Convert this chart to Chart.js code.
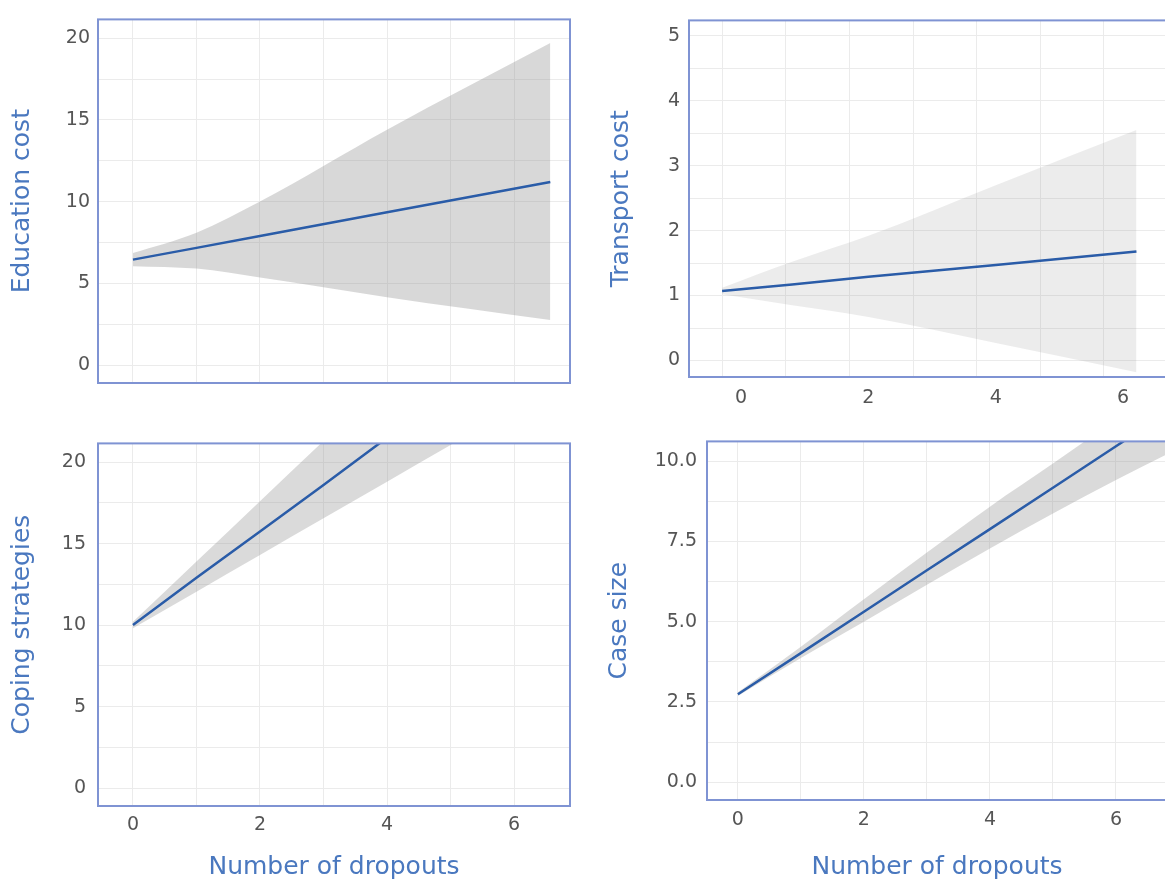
<!DOCTYPE html>
<html>
<head>
<meta charset="utf-8">
<script src="https://cdn.jsdelivr.net/npm/chart.js@4.4.1/dist/chart.umd.min.js"></script>
<style>
  html, body { margin: 0; padding: 0; background: #fff; overflow: hidden; width: 1165px; height: 879px; }
  .panel { position: absolute; }
</style>
</head>
<body>
<div class="panel" style="left:0;top:0"><canvas id="edu" width="580" height="420"></canvas></div>
<div class="panel" style="left:580px;top:0"><canvas id="transport" width="600" height="420"></canvas></div>
<div class="panel" style="left:0;top:420px"><canvas id="coping" width="580" height="462"></canvas></div>
<div class="panel" style="left:580px;top:420px"><canvas id="casesize" width="600" height="462"></canvas></div>
<script>
// Education cost vs number of dropouts
const eduX = [0, 1, 2, 4, 6.57];
const eduFit = [6.45, 7.17, 7.9, 9.35, 11.2];
const eduUpper = [6.85, 8.1, 10.0, 14.4, 19.7];
const eduLower = [6.05, 5.9, 5.35, 4.15, 2.75];
const eduTicks = [0, 5, 10, 15, 20];

// Transport cost
const trX = [0, 1.1, 2.3, 4.3, 6.51];
const trFit = [1.07, 1.17, 1.29, 1.47, 1.68];
const trUpper = [1.12, 1.52, 1.92, 2.7, 3.55];
const trLower = [1.02, 0.85, 0.67, 0.27, -0.18];
const trTicks = [0, 1, 2, 3, 4, 5];

// Coping strategies
const copX = [0, 1, 2, 3, 4, 5.2];
const copFit = [10.0, 12.9, 15.75, 18.6, 21.5, 24.9];
const copUpper = [10.2, 13.9, 17.6, 21.3, 25.0, 29.5];
const copLower = [9.8, 12.05, 14.3, 16.55, 18.8, 21.5];
const copTicks = [0, 5, 10, 15, 20];

// Case size
const caseX = [0, 1, 2, 3, 4, 5, 6, 6.85];
const caseFit = [2.74, 4.02, 5.31, 6.6, 7.88, 9.17, 10.46, 11.55];
const caseUpper = [2.8, 4.22, 5.7, 7.15, 8.58, 9.92, 11.3, 12.5];
const caseLower = [2.69, 3.87, 5.0, 6.15, 7.28, 8.37, 9.41, 10.25];
const caseTicks = [0, 2.5, 5, 7.5, 10];

const dropoutTicks = [0, 2, 4, 6];
const xTitle = "Number of dropouts";

Chart.defaults.font.family = "'DejaVu Sans', sans-serif";

const gridColor = "#ebebeb";
const tickColor = "#555555";
const titleColor = "#4a78bf";
const lineColor = "#2a5ca8";

const framePlugin = {
  id: "frame",
  afterDraw(chart) {
    const { ctx, chartArea: a } = chart;
    ctx.save();
    ctx.strokeStyle = "#7f93d3";
    ctx.lineWidth = 2;
    ctx.strokeRect(a.left, a.top, a.right - a.left, a.bottom - a.top);
    ctx.restore();
  },
};

const pts = (xs, ys) => xs.map((x, i) => ({ x: x, y: ys[i] }));
const has = (list, v) => list.some((t) => Math.abs(t - v) < 1e-6);

function panel(id, p) {
  new Chart(document.getElementById(id), {
    type: "line",
    data: {
      datasets: [
        {
          data: pts(p.x, p.fit),
          borderColor: lineColor,
          borderWidth: 2.5,
          pointRadius: 0,
          fill: false,
          clip: 0,
        },
        {
          data: pts(p.x, p.lower),
          borderWidth: 0,
          pointRadius: 0,
          cubicInterpolationMode: "monotone",
          fill: false,
          clip: 0,
        },
        {
          data: pts(p.x, p.upper),
          borderWidth: 0,
          pointRadius: 0,
          cubicInterpolationMode: "monotone",
          backgroundColor: p.ribbon,
          fill: "-1",
          clip: 0,
        },
      ],
    },
    options: {
      responsive: false,
      animation: false,
      layout: { padding: p.pad },
      plugins: { legend: { display: false }, tooltip: { enabled: false } },
      scales: {
        x: {
          type: "linear",
          min: p.xMin,
          max: p.xMax,
          afterFit: (s) => { s.height = p.xHeight; },
          grid: { color: gridColor, drawTicks: false },
          border: { display: false },
          ticks: {
            display: p.xLabels,
            stepSize: 1,
            includeBounds: false,
            maxTicksLimit: 100,
            autoSkip: false,
            maxRotation: 0,
            padding: p.xPad,
            labelOffset: p.xLabelOffset || 0,
            color: tickColor,
            font: { size: 19 },
            callback: (v) => (has(dropoutTicks, v) ? String(v) : ""),
          },
          title: {
            display: p.xTitle,
            text: xTitle,
            color: titleColor,
            font: { size: 25 },
            padding: { top: 0, bottom: 0 },
          },
        },
        y: {
          min: p.yMin,
          max: p.yMax,
          afterFit: (s) => { s.width = p.yWidth; },
          grid: { color: gridColor, drawTicks: false },
          border: { display: false },
          ticks: {
            stepSize: p.yStep,
            maxTicksLimit: 100,
            includeBounds: false,
            padding: p.yPad,
            color: tickColor,
            font: { size: 19 },
            callback: (v) => (has(p.yTicks, v) ? v.toFixed(p.yDec) : ""),
          },
          title: {
            display: true,
            text: p.yTitle,
            color: titleColor,
            font: { size: 25 },
            padding: { top: p.yTitlePad, bottom: 0 },
          },
        },
      },
    },
    plugins: [framePlugin],
  });
}

panel("edu", {
  x: eduX, fit: eduFit, upper: eduUpper, lower: eduLower,
  ribbon: "rgba(150,150,150,0.37)",
  xMin: -0.55, xMax: 6.88, yMin: -1.1, yMax: 21.15,
  yStep: 2.5, yTicks: eduTicks, yDec: 0,
  yTitle: "Education cost",
  pad: { left: 0, top: 16, right: 10, bottom: 0 },
  yWidth: 98, xHeight: 37, yPad: 8, yTitlePad: 7,
  xLabels: false, xTitle: false, xPad: 8,
});

panel("transport", {
  x: trX, fit: trFit, upper: trUpper, lower: trLower,
  ribbon: "rgba(150,150,150,0.18)",
  xMin: -0.52, xMax: 6.99, yMin: -0.255, yMax: 5.24,
  yStep: 0.5, yTicks: trTicks, yDec: 0,
  yTitle: "Transport cost",
  pad: { left: 0, top: 11, right: 13, bottom: 0 },
  yWidth: 109, xHeight: 43, yPad: 9, yTitlePad: 26,
  xLabels: true, xTitle: false, xPad: 10, xLabelOffset: 19,
});

panel("coping", {
  x: copX, fit: copFit, upper: copUpper, lower: copLower,
  ribbon: "rgba(150,150,150,0.35)",
  xMin: -0.55, xMax: 6.88, yMin: -1.1, yMax: 21.15,
  yStep: 2.5, yTicks: copTicks, yDec: 0,
  yTitle: "Coping strategies",
  pad: { left: 0, top: 18, right: 10, bottom: 0 },
  yWidth: 98, xHeight: 76, yPad: 12, yTitlePad: 7,
  xLabels: true, xTitle: true, xPad: 8,
});

panel("casesize", {
  x: caseX, fit: caseFit, upper: caseUpper, lower: caseLower,
  ribbon: "rgba(150,150,150,0.35)",
  xMin: -0.49, xMax: 6.81, yMin: -0.55, yMax: 10.61,
  yStep: 1.25, yTicks: caseTicks, yDec: 1,
  yTitle: "Case size",
  pad: { left: 0, top: 13, right: 13, bottom: 0 },
  yWidth: 127, xHeight: 82, yPad: 10, yTitlePad: 24,
  xLabels: true, xTitle: true, xPad: 9,
});
</script>
</body>
</html>
